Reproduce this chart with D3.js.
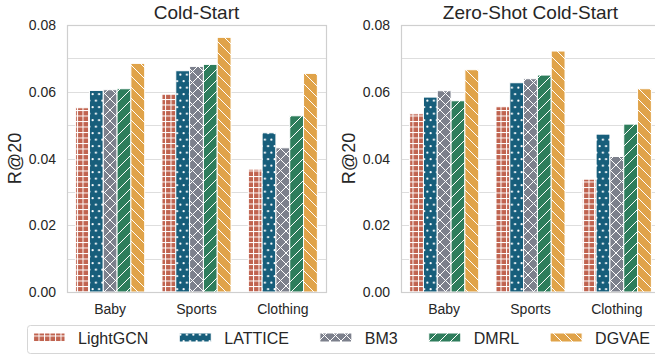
<!DOCTYPE html>
<html lang="en">
<head>
<meta charset="utf-8">
<script src="https://d3js.org/d3.v7.min.js"></script>
<style>
  body { margin: 0; background: #fff; }
  text { font-family: "Liberation Sans", Arial, sans-serif; fill: #262626; }
</style>
</head>
<body>
<script>
// categories / methods
var categories = ["Baby", "Sports", "Clothing"];
var methods = ["LightGCN", "LATTICE", "BM3", "DMRL", "DGVAE"];
var colors = ["#c0634f", "#175e7b", "#7c808c", "#2e7d5c", "#e0a349"];
var yTicks = [0, 0.02, 0.04, 0.06, 0.08];
var yGrid = [0, 0.01, 0.02, 0.03, 0.04, 0.05, 0.06, 0.07, 0.08];

// R@20 values, one row per method (Baby, Sports, Clothing)
var coldStart = [
  [0.0552, 0.0593, 0.0368],
  [0.0604, 0.0663, 0.0477],
  [0.0606, 0.0676, 0.0432],
  [0.0609, 0.0682, 0.0528],
  [0.0685, 0.0763, 0.0655]
];
var zeroShot = [
  [0.0534, 0.0555, 0.0338],
  [0.0584, 0.0627, 0.0473],
  [0.0603, 0.0639, 0.0406],
  [0.0573, 0.0650, 0.0503],
  [0.0666, 0.0722, 0.0609]
];

var W = 655, H = 358;
var plotTop = 25, plotBottom = 292, plotW = 259;

var svg = d3.select("body").append("svg")
  .attr("width", W).attr("height", H);

// hatch patterns (white lines over the fill colour)
var defs = svg.append("defs");
function pat(i, size, draw) {
  var p = defs.append("pattern")
    .attr("id", "hatch" + i)
    .attr("patternUnits", "userSpaceOnUse")
    .attr("width", size[0]).attr("height", size[1]);
  p.append("rect").attr("width", size[0]).attr("height", size[1]).attr("fill", colors[i]);
  draw(p, size);
}
var ln = function(p, x1, y1, x2, y2) {
  p.append("line").attr("x1", x1).attr("y1", y1).attr("x2", x2).attr("y2", y2)
    .attr("stroke", "#fff").attr("stroke-width", 1);
};
// + grid
pat(0, [5.5, 5.5], function(p, s) {
  ln(p, 0, 0.5, s[0], 0.5);
  ln(p, 0.5, 0, 0.5, s[1]);
});
// dots
pat(1, [6.5, 13], function(p, s) {
  [[1.6, 3.2], [4.9, 9.7]].forEach(function(c) {
    p.append("circle").attr("cx", c[0]).attr("cy", c[1]).attr("r", 1.1).attr("fill", "#fff");
  });
});
var d = 11;
// x
pat(2, [d, d], function(p) {
  ln(p, -1, d + 1, d + 1, -1); ln(p, -1, 1, 1, -1); ln(p, d - 1, d + 1, d + 1, d - 1);
  ln(p, -1, -1, d + 1, d + 1); ln(p, d - 1, -1, d + 1, 1); ln(p, -1, d - 1, 1, d + 1);
});
// /
pat(3, [d, d], function(p) {
  ln(p, -1, d + 1, d + 1, -1); ln(p, -1, 1, 1, -1); ln(p, d - 1, d + 1, d + 1, d - 1);
});
// \
pat(4, [d, d], function(p) {
  ln(p, -1, -1, d + 1, d + 1); ln(p, d - 1, -1, d + 1, 1); ln(p, -1, d - 1, 1, d + 1);
});

var y = d3.scaleLinear().domain([0, 0.08]).range([plotBottom, plotTop]);

function panel(left, title, values) {
  var g = svg.append("g");
  var x = d3.scaleBand().domain(categories).range([left, left + plotW]).padding(0);
  var bw = x.bandwidth();
  var xm = d3.scaleBand().domain(methods).range([0.1 * bw, 0.9 * bw]).padding(0);

  // grid
  g.selectAll(".grid").data(yGrid).enter().append("line")
    .attr("x1", left).attr("x2", left + plotW)
    .attr("y1", function(v) { return Math.round(y(v)) + 0.5; })
    .attr("y2", function(v) { return Math.round(y(v)) + 0.5; })
    .attr("stroke", "#dedede").attr("stroke-width", 1.1);

  // bars
  methods.forEach(function(m, i) {
    g.selectAll(".bar" + i).data(values[i]).enter().append("rect")
      .attr("x", function(v, j) { return x(categories[j]) + xm(m); })
      .attr("width", xm.bandwidth())
      .attr("y", function(v) { return y(v); })
      .attr("height", function(v) { return y(0) - y(v); })
      .attr("fill", "url(#hatch" + i + ")")
      .attr("stroke", "#fff").attr("stroke-width", 1);
  });

  // frame
  g.append("rect").attr("x", left + 0.5).attr("y", plotTop + 0.5)
    .attr("width", plotW).attr("height", plotBottom - plotTop)
    .attr("fill", "none").attr("stroke", "#cfcfcf").attr("stroke-width", 1.2);

  // y ticks
  g.selectAll(".yt").data(yTicks).enter().append("text")
    .attr("x", left - 11).attr("y", function(v) { return y(v) + 5; })
    .attr("text-anchor", "end").style("font-size", "14px")
    .text(function(v) { return d3.format(".2f")(v); });

  // x ticks
  g.selectAll(".xt").data(categories).enter().append("text")
    .attr("x", function(c) { return x(c) + bw / 2; }).attr("y", 314)
    .attr("text-anchor", "middle").style("font-size", "14px")
    .text(function(c) { return c; });

  // y label
  g.append("text")
    .attr("transform", "translate(" + (left - 46) + "," + ((plotTop + plotBottom) / 2) + ") rotate(-90)")
    .attr("text-anchor", "middle").style("font-size", "18px")
    .text("R@20");

  // title
  g.append("text").attr("x", left + plotW / 2).attr("y", 18.5)
    .attr("text-anchor", "middle").style("font-size", "19px")
    .text(title);
}

panel(67, "Cold-Start", coldStart);
panel(401, "Zero-Shot Cold-Start", zeroShot);

// legend
var lg = svg.append("g");
lg.append("rect").attr("x", 27.5).attr("y", 325.5).attr("width", 640).attr("height", 28)
  .attr("rx", 3).attr("fill", "#fff").attr("stroke", "#d6d6d6").attr("stroke-width", 1);
var lx = 33;
methods.forEach(function(m, i) {
  lg.append("rect").attr("x", lx).attr("y", 333).attr("width", 32).attr("height", 9)
    .attr("fill", "url(#hatch" + i + ")").attr("stroke", "#fff").attr("stroke-width", 1);
  var t = lg.append("text").attr("x", lx + 45).attr("y", 343.5)
    .style("font-size", "16px").text(m);
  lx += 45 + t.node().getComputedTextLength() + 31;
});
</script>
</body>
</html>
